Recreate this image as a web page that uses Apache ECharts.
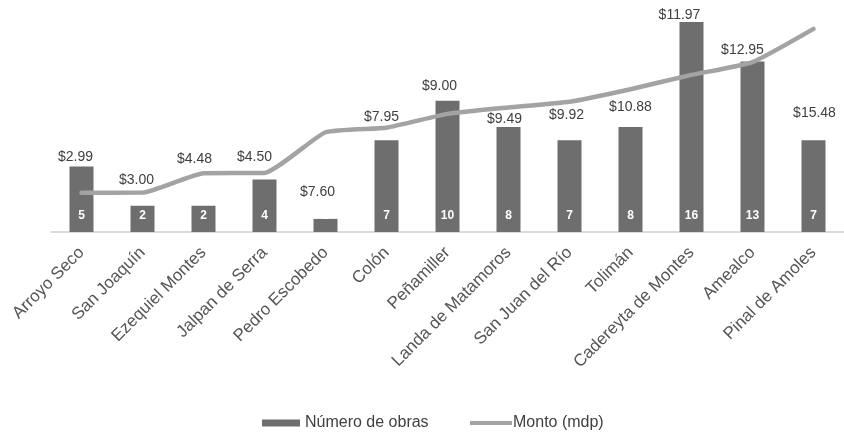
<!DOCTYPE html>
<html>
<head>
<meta charset="utf-8">
<script src="https://cdn.jsdelivr.net/npm/echarts@6/dist/echarts.min.js"></script>
<style>
html,body{margin:0;padding:0;background:#fff;}
#chart{width:844px;height:433px;}
</style>
</head>
<body>
<div id="chart"></div>
<script>
var categories = ['Arroyo Seco','San Joaquín','Ezequiel Montes','Jalpan de Serra','Pedro Escobedo','Colón','Peñamiller','Landa de Matamoros','San Juan del Río','Tolimán','Cadereyta de Montes','Amealco','Pinal de Amoles'];
var obras = [5,2,2,4,1,7,10,8,7,8,16,13,7];
var monto = [2.99,3.00,4.48,4.50,7.60,7.95,9.00,9.49,9.92,10.88,11.97,12.95,15.48];
// label offsets (style only) for the monto labels, px relative to the point
var labelOffsets = [[-6,-36],[-6,-12],[-9,-14],[-10,-16],[-8,60],[-5,-11],[-8,-28],[-4,12],[-3,13],[0,18],[-12,-60],[-10,-12],[1,84]];

var chart = echarts.init(document.getElementById('chart'), null, {renderer:'canvas'});
var font = "'Liberation Sans', Arial, sans-serif";
chart.setOption({
  animation:false,
  backgroundColor:'#ffffff',
  textStyle:{fontFamily:font},
  grid:{left:51, right:-11, top:22, bottom:201, containLabel:false},
  legend:[
    {
      left:257, top:410,
      itemWidth:38, itemHeight:7, itemGap:28,
      textStyle:{fontSize:16, color:'#404040', fontFamily:font},
      data:[{name:'Número de obras', icon:'rect'}]
    },
    {
      left:465, top:410,
      itemWidth:42, itemHeight:4,
      textStyle:{fontSize:16, color:'#404040', fontFamily:font, padding:[0,0,0,-4]},
      data:[{name:'Monto (mdp)', icon:'rect'}]
    }
  ],
  xAxis:{
    type:'category', data:categories,
    axisLine:{lineStyle:{color:'#d0d0d0', width:1.5}},
    axisTick:{show:false},
    axisLabel:{rotate:45, interval:0, fontSize:17, color:'#555555', margin:18, fontFamily:font}
  },
  yAxis:{type:'value', min:0, max:16, show:false, splitLine:{show:false}},
  series:[
    {
      name:'Número de obras', type:'bar', data:obras, barWidth:24,
      itemStyle:{color:'#6e6e6e'},
      label:{show:true, position:'insideBottom', distance:10, color:'#ffffff', fontWeight:'bold', fontSize:12, fontFamily:font}
    },
    {
      name:'Monto (mdp)', type:'line', smooth:0.15,
      data: monto.map(function(v,i){ return {value:v, label:{offset:labelOffsets[i]}}; }),
      symbol:'circle', symbolSize:1, showSymbol:true,
      lineStyle:{color:'#a3a3a3', width:4.5, cap:'round', join:'round'},
      itemStyle:{color:'#a3a3a3'},
      label:{show:true, position:'inside', color:'#404040', fontSize:14, fontFamily:font,
        formatter:function(p){ return '$' + p.value.toFixed(2); }},
      z:3
    }
  ]
});
</script>
</body>
</html>
